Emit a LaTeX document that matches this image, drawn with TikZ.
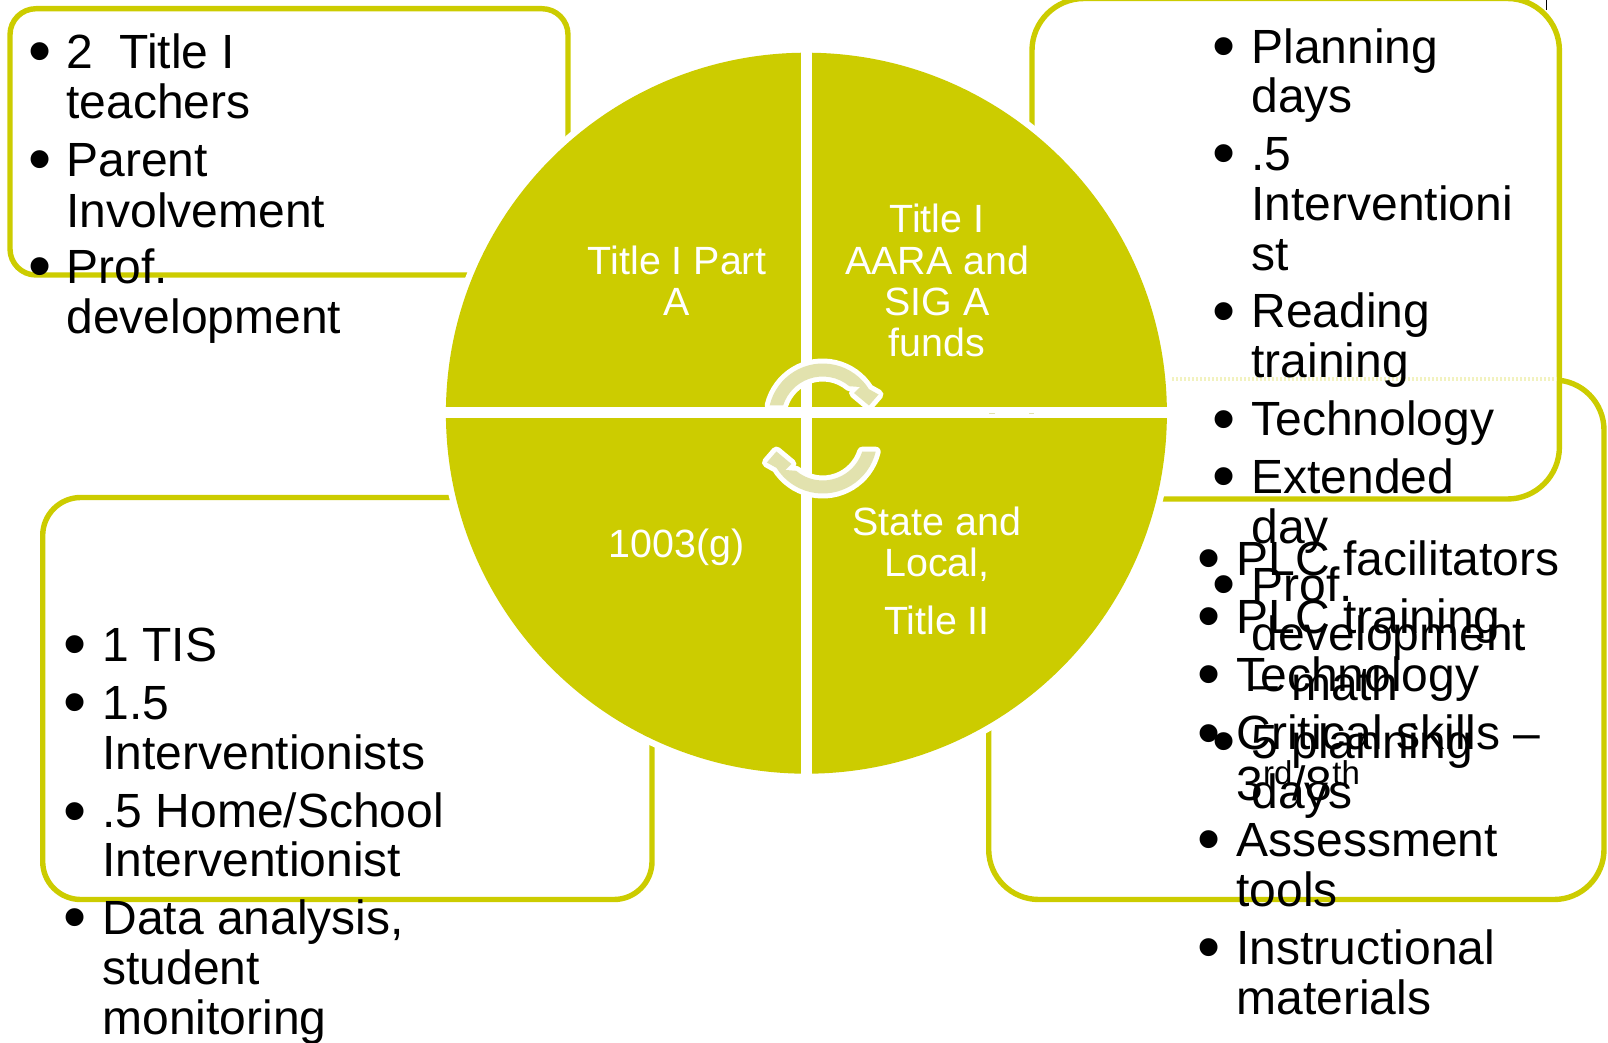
\documentclass[tikz,border=0pt]{standalone}
\usepackage{fontspec}
\setmainfont{Liberation Sans}
\usetikzlibrary{calc}
\definecolor{olive}{HTML}{CCCC00}
\definecolor{pale}{HTML}{E2E2AE}
\newcount\tcnt
\newcommand{\Li}[3]{\global\advance\tcnt by 1 \node[line] (t\the\tcnt) at (#1-1,#2) {#3};}
\newcommand{\Bu}[2]{\global\advance\tcnt by 1 \node[bul] (t\the\tcnt) at (#1+1.5,#2+5.5) {•};}
\newcommand{\Ce}[3]{\global\advance\tcnt by 1 \node[cen] (t\the\tcnt) at (#1+1,#2+0.5) {#3};}
\newcommand{\Sup}[1]{\raisebox{8pt}{\fontsize{16.5}{16.5}\selectfont #1}}
\tikzset{
  line/.style={anchor=base west,inner sep=0pt,text=black,font=\fontsize{24}{24}\selectfont},
  bul/.style={anchor=base,inner sep=0pt,text=black,font=\fontsize{33}{33}\selectfont},
  cen/.style={anchor=base,inner sep=0pt,text=white,font=\fontsize{19.7}{20}\selectfont},
  card/.style={draw=olive,fill=white,line width=2.7pt},
  swirlrim/.style={draw=white,fill=white,line width=5pt,line join=round},
  swirlband/.style={fill=pale}
}
\newcommand{\SwirlPath}{%
  ($(822.7,418)+(193.5:54.5)$) arc[start angle=193.5,end angle=328,radius=54.5]
    -- (878.5,394.5) -- (869,405.5) -- (854,393) -- (860,387) -- ($(822.7,418)+(310:41.5)$)
    arc[start angle=310,end angle=197.8,radius=41.5] -- cycle}
\newcommand{\Swirl}{\path[swirlrim] \SwirlPath; \path[swirlband] \SwirlPath;}
\begin{document}
\begin{tikzpicture}[x=0.5pt,y=-0.5pt]
\useasboundingbox (0,0) rectangle (1608,1043);
% cards
\path[card,rounded corners=19pt] (42.7,497.5) rectangle (652,899.5);
\path[card,rounded corners=25pt] (988.7,380) rectangle (1604,899.5);
\path[card,rounded corners=13pt] (10,8.7) rectangle (568,275);
\path[card,rounded corners=26pt] (1032,-1.5) rectangle (1559.4,499);
\draw[olive!25,line width=2pt,dash pattern=on 1pt off 1pt] (1172,379) -- (1556.5,379);
\draw[black,line width=0.8pt] (1546.5,0) -- (1546.5,10);
% disc
\fill[white] (806.4,413.2) circle[radius=367];
\begin{scope}
  \clip (806.4,413.2) circle[radius=360.5];
  \fill[olive] (440,40) rectangle (800.9,407.4);
  \fill[olive] (811.9,40) rectangle (1180,407.4);
  \fill[olive] (440,418.4) rectangle (800.9,780);
  \fill[olive] (811.9,418.4) rectangle (1180,780);
\end{scope}
\draw[pale,line width=0.5pt] (989,413.4) -- (995,413.4);
\draw[pale,line width=0.5pt] (1029,413.4) -- (1034,413.4);
% swirl arrows
\Swirl
\begin{scope}[rotate around={180:(822.7,428.5)}]
\Swirl
\end{scope}
% disc text
\Ce{676}{274.5}{Title I Part}
\Ce{676}{315.5}{A}
\Ce{936}{232}{Title I}
\Ce{936}{274.5}{AARA and}
\Ce{936}{315}{SIG A}
\Ce{936}{356.5}{funds}
\Ce{675.5}{556.5}{1003(g)}
\Ce{936}{535}{State and}
\Ce{936}{576}{Local,}
\Ce{936}{634}{Title II}
% top left
\Bu{39}{68.5}\Li{67}{69}{2\ \ Title I}
\Li{67}{119}{teachers}
\Bu{39}{176.5}\Li{67}{177}{Parent}
\Li{67}{227.5}{Involvement}
\Bu{39}{283.5}\Li{67}{284}{Prof.}
\Li{67}{334}{development}
% top right
\Bu{1222.5}{63.5}\Li{1252}{63.5}{Planning}
\Li{1252}{113}{days}
\Bu{1222.5}{170}\Li{1252}{171}{.5}
\Li{1252}{220.5}{Interventioni}
\Li{1252}{271}{st}
\Bu{1222.5}{328}\Li{1252}{328}{Reading}
\Li{1252}{378}{training}
\Bu{1222.5}{436}\Li{1252}{436}{Technology}
\Bu{1222.5}{493}\Li{1252}{493.5}{Extended}
\Li{1252}{543.5}{day}
\Bu{1222.5}{601}\Li{1252}{601}{Prof.}
\Li{1252}{650}{development}
\Li{1252}{700}{– math}
\Bu{1222.5}{758}\Li{1252}{758}{5 planning}
\Li{1252}{808}{days}
% bottom right
\Bu{1208}{575}\Li{1237}{575}{PLC facilitators}
\Bu{1208}{633}\Li{1237}{633}{PLC training}
\Bu{1208}{691}\Li{1237}{691}{Technology}
\Bu{1208}{750}\Li{1237}{749.5}{Critical skills –}
\Li{1237}{800}{3\Sup{rd}/8\Sup{th}}
\Bu{1208}{856}\Li{1237}{856}{Assessment}
\Li{1237}{906.5}{tools}
\Bu{1208}{964}\Li{1237}{964}{Instructional}
\Li{1237}{1014}{materials}
% bottom left
\Bu{74}{661}\Li{103}{661}{1 TIS}
\Bu{74}{719}\Li{103}{719}{1.5}
\Li{103}{769}{Interventionists}
\Bu{74}{827.5}\Li{103}{827.5}{.5 Home/School}
\Li{103}{876.5}{Interventionist}
\Bu{74}{934}\Li{103}{934}{Data analysis,}
\Li{103}{984.5}{student}
\Li{103}{1034.5}{monitoring}
\end{tikzpicture}
\end{document}
